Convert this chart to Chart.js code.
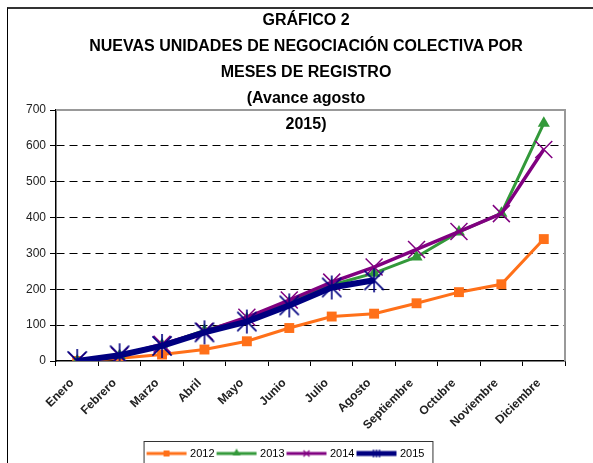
<!DOCTYPE html>
<html>
<head>
<meta charset="utf-8">
<script src="https://cdn.jsdelivr.net/npm/chart.js@4/dist/chart.umd.min.js"></script>
<style>
	html, body { margin: 0; padding: 0; background: #fff; overflow: hidden; width: 593px; height: 463px; }
	#wrap { position: relative; width: 593px; height: 463px; overflow: hidden; }
	#frame { position: absolute; left: 7px; top: 7px; width: 620px; height: 500px; border-left: 1.5px solid #000; border-top: 2px solid #333; }
	#chart { position: absolute; left: 0; top: 0; }
	#title { position: absolute; left: 86px; width: 440px; top: 7px; text-align: center; font: bold 16px "Liberation Sans", Arial, sans-serif; line-height: 26px; color: #000; white-space: nowrap; }
</style>
</head>
<body>
<div id="wrap">
	<div id="frame"></div>
	<canvas id="chart" width="593" height="469"></canvas>
	<div id="title">GRÁFICO 2<br>NUEVAS UNIDADES DE NEGOCIACIÓN COLECTIVA POR<br>MESES DE REGISTRO<br>(Avance agosto<br>2015)</div>
</div>
<script>
	'use strict';

	var months = ['Enero', 'Febrero', 'Marzo', 'Abril', 'Mayo', 'Junio', 'Julio', 'Agosto', 'Septiembre', 'Octubre', 'Noviembre', 'Diciembre'];
	var v2012 = [0, 8, 18, 32, 55, 92, 124, 132, 161, 192, 214, 340];
	var v2013 = [0, 15, 45, 85, 118, 163, 212, 245, 290, 360, 412, 663];
	var v2014 = [0, 15, 47, 82, 122, 170, 220, 262, 311, 361, 411, 590];
	var v2015 = [0, 16, 42, 80, 110, 155, 205, 225];
	var yTicks = [0, 100, 200, 300, 400, 500, 600, 700];

	var ORANGE = '#FF7019';
	var GREEN = '#33993A';
	var PURPLE = '#800080';
	var NAVY = '#000080';

	function mkCanvas(w, h) {
		var c = document.createElement('canvas');
		c.width = w;
		c.height = h;
		return c;
	}

	// asterisk marker: X plus vertical stroke
	function drawStar(ctx, cx, cy, r, color, lw) {
		var d = r * 0.8;
		ctx.strokeStyle = color;
		ctx.lineWidth = lw;
		ctx.beginPath();
		ctx.moveTo(cx - d, cy - d); ctx.lineTo(cx + d, cy + d);
		ctx.moveTo(cx - d, cy + d); ctx.lineTo(cx + d, cy - d);
		ctx.moveTo(cx, cy - r); ctx.lineTo(cx, cy + r);
		ctx.stroke();
	}

	function starMarker(r, color, lw) {
		var s = Math.ceil(r * 2 + 4);
		var c = mkCanvas(s, s);
		drawStar(c.getContext('2d'), s / 2, s / 2, r, color, lw);
		return c;
	}

	function legendIcon(color, lw, kind) {
		var c = mkCanvas(44, 14);
		var ctx = c.getContext('2d');
		ctx.strokeStyle = color;
		ctx.fillStyle = color;
		ctx.lineWidth = lw;
		ctx.beginPath();
		ctx.moveTo(2, 7); ctx.lineTo(42, 7);
		ctx.stroke();
		if (kind === 'rect') {
			ctx.fillRect(19, 4, 6, 6);
		} else if (kind === 'tri') {
			ctx.beginPath();
			ctx.moveTo(22, 2); ctx.lineTo(26, 9); ctx.lineTo(18, 9);
			ctx.closePath();
			ctx.fill();
		} else if (kind === 'x') {
			ctx.lineWidth = 1.2;
			ctx.beginPath();
			ctx.moveTo(19, 4); ctx.lineTo(25, 10);
			ctx.moveTo(19, 10); ctx.lineTo(25, 4);
			ctx.stroke();
		} else if (kind === 'star') {
			ctx.lineWidth = 1.2;
			ctx.beginPath();
			ctx.moveTo(19, 3); ctx.lineTo(19, 11);
			ctx.moveTo(22, 3); ctx.lineTo(22, 11);
			ctx.moveTo(25, 3); ctx.lineTo(25, 11);
			ctx.stroke();
		}
		return c;
	}

	var legendIcons = [
		legendIcon(ORANGE, 3, 'rect'),
		legendIcon(GREEN, 3, 'tri'),
		legendIcon(PURPLE, 3, 'x'),
		legendIcon(NAVY, 5, 'star')
	];

	// gray top/right border of the plot area + legend box
	var framePlugin = {
		id: 'framePlugin',
		afterDraw: function(chart) {
			var ctx = chart.ctx;
			var a = chart.chartArea;
			ctx.save();
			ctx.strokeStyle = '#999';
			ctx.lineWidth = 2;
			ctx.beginPath();
			ctx.moveTo(a.left, a.top);
			ctx.lineTo(a.right, a.top);
			ctx.lineTo(a.right, a.bottom);
			ctx.stroke();

			var hb = chart.legend.legendHitBoxes;
			if (hb && hb.length) {
				var l = hb[0].left - 5;
				var r = hb[hb.length - 1].left + hb[hb.length - 1].width + 8;
				var t = hb[0].top - 7;
				ctx.strokeStyle = '#333';
				ctx.lineWidth = 1;
				ctx.strokeRect(l + 0.5, t + 0.5, r - l, 60);
			}
			ctx.restore();
		}
	};

	new Chart(document.getElementById('chart'), {
		type: 'line',
		data: {
			labels: months,
			datasets: [
				{ label: '2012', data: v2012, borderColor: ORANGE, backgroundColor: ORANGE, borderWidth: 3,
					pointStyle: 'rect', pointRadius: 7, pointBorderWidth: 0, pointBackgroundColor: ORANGE, order: 4 },
				{ label: '2013', data: v2013, borderColor: GREEN, backgroundColor: GREEN, borderWidth: 3,
					pointStyle: 'triangle', pointRadius: 7, pointBorderWidth: 0, pointBackgroundColor: GREEN, order: 3 },
				{ label: '2014', data: v2014, borderColor: PURPLE, backgroundColor: PURPLE, borderWidth: 3.5,
					pointStyle: 'crossRot', pointRadius: 12, pointBorderWidth: 1.5, pointBorderColor: PURPLE, order: 2 },
				{ label: '2015', data: v2015, borderColor: NAVY, backgroundColor: NAVY, borderWidth: 6,
					pointStyle: starMarker(12, NAVY, 1.6), pointRadius: 12, order: 1 }
			]
		},
		options: {
			responsive: false,
			animation: false,
			layout: { padding: { left: 8, top: 110, right: 28, bottom: 0 } },
			elements: { line: { tension: 0 } },
			scales: {
				x: {
					offset: true,
					grid: { offset: true, drawOnChartArea: false, tickLength: 5, color: '#000', tickColor: '#000' },
					border: { color: '#000', width: 1.5 },
					ticks: { autoSkip: false, maxRotation: 45, minRotation: 45, padding: 10, labelOffset: -5,
						font: { family: 'Liberation Sans', size: 12, weight: 'bold' }, color: '#222' },
					afterFit: function(s) { s.height = 83; }
				},
				y: {
					min: 0,
					max: 700,
					afterBuildTicks: function(s) { s.ticks = yTicks.map(function(v) { return { value: v }; }); },
					grid: {
						color: function(c) { return (c.tick && (c.tick.value === 0 || c.tick.value === 700)) ? 'rgba(0,0,0,0)' : '#000'; },
						tickColor: '#000',
						tickLength: 6,
						lineWidth: 1
					},
					border: { color: '#000', width: 1.5, dash: [8, 5] },
					ticks: { padding: 4, font: { family: 'Liberation Sans', size: 12 }, color: '#222' },
					afterFit: function(s) { s.width = 48; }
				}
			},
			plugins: {
				title: { display: false },
				tooltip: { enabled: false },
				legend: {
					position: 'bottom',
					labels: {
						usePointStyle: true,
						pointStyleWidth: 36,
						padding: 4,
						color: '#000',
						font: { family: 'Liberation Sans', size: 11 },
						sort: function(a, b) { return a.datasetIndex - b.datasetIndex; },
						generateLabels: function(chart) {
							var items = Chart.defaults.plugins.legend.labels.generateLabels(chart);
							items.forEach(function(it) { it.pointStyle = legendIcons[it.datasetIndex]; });
							return items;
						}
					}
				}
			}
		},
		plugins: [framePlugin]
	});
</script>
</body>
</html>
